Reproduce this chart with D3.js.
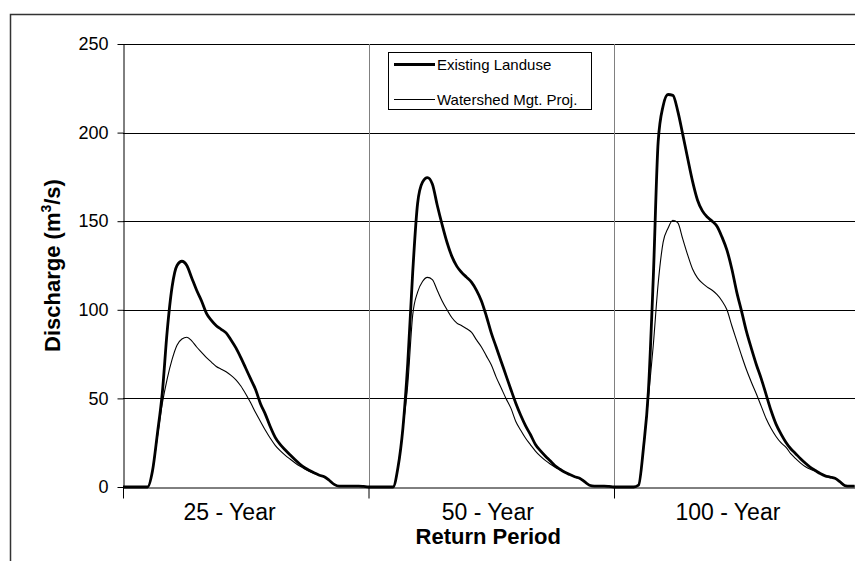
<!DOCTYPE html>
<html>
<head>
<meta charset="utf-8">
<script src="https://cdn.jsdelivr.net/npm/d3@7"></script>
<style>
  html, body { margin: 0; padding: 0; background: #fff; }
  svg { display: block; font-family: "Liberation Sans", Arial, sans-serif; }
</style>
</head>
<body>
<svg id="chart" width="855" height="561"></svg>
<script>
// Return-period groups along the x axis
const categories = ["25 - Year", "50 - Year", "100 - Year"];
// Time step under which each group label is centred
const labelSteps = [21.7, 74.3, 123.2];
const seriesNames = ["Existing Landuse", "Watershed Mgt. Proj."];
const yTicks = [0, 50, 100, 150, 200, 250];

// Hydrograph ordinates (m3/s), 50 time steps per return period
const existing25 = [0, 0, 0, 0, 0, 0, 9, 30, 53, 88, 113, 125, 127.4, 125, 118, 111, 105, 98, 94, 91,
  89, 87, 83, 78.5, 73, 67, 61, 55, 47, 41, 34, 28, 24, 21, 18.2, 15.5, 13, 10.9, 9.3, 7.9,
  6.6, 5.8, 3.8, 1.5, 0.5, 0.5, 0.5, 0.5, 0.5, 0.3];
const watershed25 = [0, 0, 0, 0, 0, 0, 9, 28, 47, 61, 72, 80, 83.5, 84.5, 82.5, 79, 76, 73, 70.5, 68,
  66.5, 65, 63, 60.5, 57, 52.5, 47.5, 42, 37, 32, 27.5, 23.5, 20.5, 18, 15.8, 13.7, 11.8, 10.2, 8.8, 7.6,
  6.5, 5.5, 3.8, 1.5, 0.5, 0.5, 0.5, 0.5, 0.5, 0.3];

const existing50 = [0, 0, 0, 0, 0, 0, 11, 33, 70, 121, 160, 172, 174.6, 171, 159, 148, 138, 130, 124.5, 121,
  118.3, 115.5, 111, 105, 96.5, 87, 79, 71, 63, 55, 47.3, 40.5, 34.5, 29.5, 24, 20.5, 17.5, 14.8, 12, 10,
  8.3, 7, 5.8, 5, 3, 1, 0.5, 0.5, 0.5, 0.3];
const watershed50 = [0, 0, 0, 0, 0, 0, 11, 33, 58, 97, 110, 116, 118.3, 117, 111, 105, 100, 95.5, 92.5, 91,
  89.3, 87.2, 83, 79, 74, 69, 62, 56, 50, 44.5, 37, 32, 27.5, 23.8, 20.3, 17.4, 15, 13, 11.2, 9.7,
  8.3, 7, 5.8, 5, 3, 1, 0.5, 0.5, 0.5, 0.3];

const existing100 = [0, 0, 0, 0, 0, 1, 22, 54, 118, 195, 215, 221.5, 221, 212, 199, 185.5, 172.5, 162, 155.8, 152.4,
  150, 147, 141, 133.7, 123, 110, 99, 87.5, 78, 69, 61, 52, 43, 35.5, 30, 25.3, 21.6, 18.8, 16, 13.4,
  11.1, 9.3, 7.6, 6.3, 5.6, 4.9, 3, 0.8, 0.5, 0.5];
const watershed100 = [0, 0, 0, 0, 0, 1, 22, 50, 80, 115, 138, 146, 150.5, 149, 140, 131, 123, 118, 115, 112.8,
  111, 108.5, 105, 100, 91, 82.5, 74, 66, 59, 52.5, 45.5, 38.5, 33, 28.5, 25, 22.5, 18.8, 16, 13.5, 11.4,
  10, 9, 7.6, 6.3, 5.6, 4.9, 3, 0.8, 0.5, 0.5];

const existing = existing25.concat(existing50, existing100);
const watershed = watershed25.concat(watershed50, watershed100);
const totalSteps = existing.length;

const svg = d3.select("#chart");
const W = 855, H = 561;
const plot = { left: 123, top: 44, right: 859.5, bottom: 487 };

svg.append("rect").attr("width", W).attr("height", H).attr("fill", "#fff");

// Outer chart frame
svg.append("rect")
  .attr("x", 10.5).attr("y", 14.5)
  .attr("width", 880).attr("height", 600)
  .attr("fill", "none").attr("stroke", "#333").attr("stroke-width", 1.5);

const x = d3.scaleLinear().domain([0, totalSteps]).range([plot.left, plot.right]);
const band = d3.scaleBand().domain(categories).range([plot.left, plot.right]);
const y = d3.scaleLinear().domain([0, 250]).range([plot.bottom, plot.top]);

// Horizontal gridlines
svg.append("g").selectAll("line").data(yTicks.filter(d => d > 0)).join("line")
  .attr("x1", plot.left).attr("x2", plot.right)
  .attr("y1", d => Math.round(y(d)) + 0.5).attr("y2", d => Math.round(y(d)) + 0.5)
  .attr("stroke", "#000").attr("stroke-width", 1);

// Vertical dividers between return periods
svg.append("g").selectAll("line").data(categories.slice(1)).join("line")
  .attr("x1", d => Math.round(band(d)) + 0.5).attr("x2", d => Math.round(band(d)) + 0.5)
  .attr("y1", plot.top).attr("y2", plot.bottom)
  .attr("stroke", "#808080").attr("stroke-width", 1);

// Y axis
const yAxis = svg.append("g")
  .attr("transform", `translate(${plot.left + 0.5},0)`)
  .call(d3.axisLeft(y).tickValues(yTicks).tickSize(6).tickPadding(9).tickSizeOuter(0));
yAxis.select(".domain").attr("stroke", "#000");
yAxis.selectAll(".tick line").attr("stroke", "#000");
yAxis.selectAll(".tick text").attr("font-size", 18).attr("fill", "#000")
  .attr("font-family", "Liberation Sans, Arial, sans-serif");

// X axis: tick marks at group boundaries
const boundaryScale = d3.scaleLinear().domain([0, categories.length]).range([plot.left, plot.right]);
const xAxis = svg.append("g")
  .attr("transform", `translate(0,${plot.bottom + 0.5})`)
  .call(d3.axisBottom(boundaryScale).tickValues(d3.range(categories.length + 1))
    .tickSize(11).tickFormat("").tickSizeOuter(0));
xAxis.select(".domain").attr("stroke", "#000");
xAxis.selectAll(".tick line").attr("stroke", "#000");

// Group labels
svg.append("g").selectAll("text").data(categories).join("text")
  .attr("x", (d, i) => x(labelSteps[i]))
  .attr("y", 520)
  .attr("text-anchor", "middle")
  .attr("font-size", 23)
  .attr("fill", "#000")
  .text(d => d);

// Axis titles
svg.append("text")
  .attr("x", (plot.left + plot.right) / 2 - 3)
  .attr("y", 544)
  .attr("text-anchor", "middle")
  .attr("font-size", 22)
  .attr("font-weight", "bold")
  .text("Return Period");

const yTitle = svg.append("text")
  .attr("transform", `translate(60,${(plot.top + plot.bottom) / 2}) rotate(-90)`)
  .attr("text-anchor", "middle")
  .attr("font-size", 22)
  .attr("font-weight", "bold");
yTitle.append("tspan").text("Discharge (m");
yTitle.append("tspan").attr("font-size", 14).attr("dy", -9).text("3");
yTitle.append("tspan").attr("dy", 9).text("/s)");

// Hydrograph lines
const line = d3.line()
  .x((d, i) => x(i))
  .y(d => y(d))
  .curve(d3.curveMonotoneX);

svg.append("path").datum(watershed)
  .attr("d", line).attr("fill", "none")
  .attr("stroke", "#000").attr("stroke-width", 1.1).attr("stroke-linejoin", "round");

svg.append("path").datum(existing)
  .attr("d", line).attr("fill", "none")
  .attr("stroke", "#000").attr("stroke-width", 2.8).attr("stroke-linejoin", "round");

// Legend
const legend = svg.append("g");
legend.append("rect")
  .attr("x", 388.5).attr("y", 52.5).attr("width", 203).attr("height", 57)
  .attr("fill", "#fff").attr("stroke", "#000").attr("stroke-width", 1);
const legendRows = [
  { name: seriesNames[0], width: 2.8, cy: 64.5 },
  { name: seriesNames[1], width: 1.1, cy: 99.5 }
];
legendRows.forEach(r => {
  legend.append("line")
    .attr("x1", 394).attr("x2", 435).attr("y1", r.cy).attr("y2", r.cy)
    .attr("stroke", "#000").attr("stroke-width", r.width);
  legend.append("text")
    .attr("x", 437).attr("y", r.cy + 5)
    .attr("font-size", 15).attr("fill", "#000")
    .text(r.name);
});
</script>
</body>
</html>
